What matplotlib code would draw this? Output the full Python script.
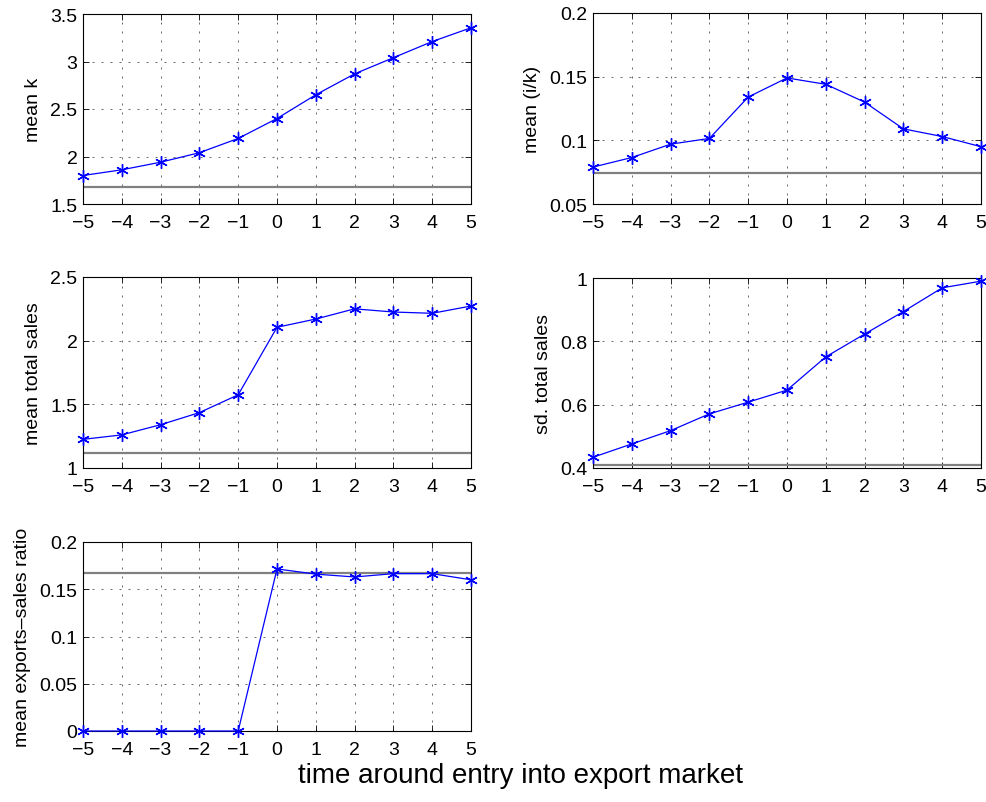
"""Firm dynamics around entry into the export market (5 panels, MATLAB look)."""

import matplotlib

matplotlib.use("Agg")
matplotlib.rcParams["font.family"] = ["Liberation Sans", "DejaVu Sans"]
import matplotlib.pyplot as plt

W, H = 987, 803

years = [-5, -4, -3, -2, -1, 0, 1, 2, 3, 4, 5]

mean_k = [1.80, 1.86, 1.94, 2.04, 2.19, 2.40, 2.65, 2.87, 3.04, 3.21, 3.355]
mean_ik = [0.079, 0.0865, 0.097, 0.1015, 0.134, 0.149, 0.144, 0.130, 0.109, 0.103, 0.095]
mean_sales = [1.225, 1.26, 1.34, 1.435, 1.575, 2.105, 2.17, 2.25, 2.225, 2.215, 2.272]
sd_sales = [0.434, 0.476, 0.518, 0.571, 0.608, 0.646, 0.751, 0.823, 0.894, 0.969, 0.99]
mean_exp = [0.0, 0.0, 0.0, 0.0, 0.0, 0.1715, 0.166, 0.163, 0.1665, 0.1665, 0.160]

# non-exporter reference levels (gray lines)
ref_k = 1.682
ref_ik = 0.0745
ref_sales = 1.118
ref_sd = 0.408
ref_exp = 0.1668

panels = [
    # (left, top, right, bottom) in pixels, data, ref, ylim, yticks, ticklabels, ylabel
    ((83, 15, 471, 205), mean_k, ref_k, (1.5, 3.5),
     [1.5, 2, 2.5, 3, 3.5], ["1.5", "2", "2.5", "3", "3.5"], "mean k"),
    ((593, 14, 981, 205), mean_ik, ref_ik, (0.05, 0.2),
     [0.05, 0.1, 0.15, 0.2], ["0.05", "0.1", "0.15", "0.2"], "mean (i/k)"),
    ((83, 278, 471, 469), mean_sales, ref_sales, (1, 2.5),
     [1, 1.5, 2, 2.5], ["1", "1.5", "2", "2.5"], "mean total sales"),
    ((593, 279, 981, 469), sd_sales, ref_sd, (0.4, 1.0),
     [0.4, 0.6, 0.8, 1.0], ["0.4", "0.6", "0.8", "1"], "sd. total sales"),
    ((83, 543, 471, 732), mean_exp, ref_exp, (0, 0.2),
     [0, 0.05, 0.1, 0.15, 0.2], ["0", "0.05", "0.1", "0.15", "0.2"],
     "mean exports\u2013sales ratio"),
]

fig = plt.figure(figsize=(W / 100, H / 100), dpi=100)

for (l, t, r, b), vals, ref, ylim, yt, ytl, ylab in panels:
    ax = fig.add_axes([l / W, 1 - b / H, (r - l) / W, (b - t) / H])
    ax.axhline(ref, color="#808080", lw=1.6, zorder=2)
    ax.plot(years, vals, color="#0000ff", lw=0.9, marker=(6, 2, 0), ms=9,
            markeredgewidth=1.0, clip_on=False, zorder=3)
    ax.set_xlim(-5, 5)
    ax.set_ylim(*ylim)
    ax.set_xticks(years)
    ax.set_xticklabels([str(y).replace("-", "\u2212") for y in years])
    ax.set_yticks(yt)
    ax.set_yticklabels(ytl)
    ax.grid(True, color="#505050", linestyle=(0, (2.4, 8.4)), lw=0.6)
    ax.tick_params(direction="in", length=4, width=0.6, labelsize=14,
                   top=True, right=True)
    ax.tick_params(axis="x", pad=7)
    ax.tick_params(axis="y", pad=4)
    ax.set_ylabel(ylab, fontsize=14, labelpad=6)
    for s in ax.spines.values():
        s.set_linewidth(0.8)

fig.text(521 / W, 1 - 776 / H, "time around entry into export market",
         ha="center", va="center", fontsize=20)

fig.savefig("out.png", dpi=100)
